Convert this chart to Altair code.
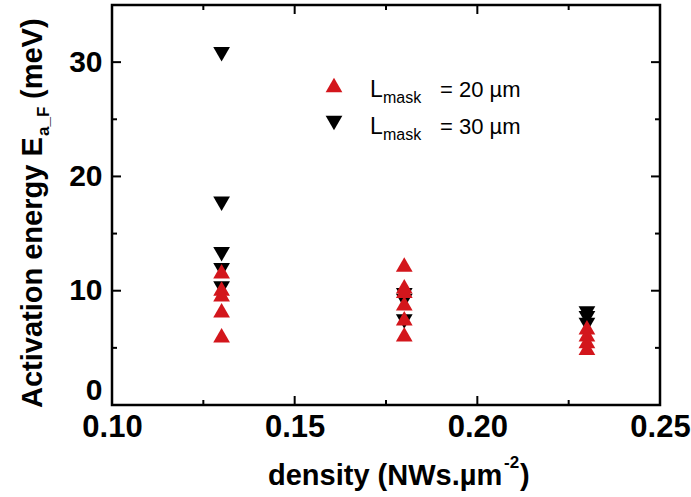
import altair as alt
import pandas as pd

# ---- data ----
density_20 = [0.13, 0.13, 0.13, 0.13, 0.13,
              0.18, 0.18, 0.18, 0.18, 0.18, 0.18,
              0.23, 0.23, 0.23, 0.23]
energy_20 = [11.7, 10.2, 9.7, 8.3, 6.1,
             12.3, 10.4, 10.0, 8.9, 7.6, 6.2,
             6.8, 6.2, 5.6, 5.0]
density_30 = [0.13, 0.13, 0.13, 0.13, 0.13,
              0.18, 0.18, 0.18,
              0.23, 0.23, 0.23]
energy_30 = [30.7, 17.6, 13.2, 11.8, 10.2,
             9.6, 9.1, 7.3,
             8.0, 7.6, 7.0]

x_major = [0.10, 0.15, 0.20, 0.25]
x_minor = [0.125, 0.175, 0.225]
y_major = [0, 10, 20, 30]
y_minor = [5, 15, 25]

legend_main = ["L", "L"]
legend_sub = ["mask", "mask"]
legend_rest = ["= 20 µm", "= 30 µm"]

W, H = 548, 400
RED = "#d3161c"
FONT = "Liberation Sans"

xs = alt.Scale(domain=[0.10, 0.25], nice=False, zero=False)
ys = alt.Scale(domain=[0, 35], nice=False)

df20 = pd.DataFrame({"d": density_20, "e": energy_20})
df30 = pd.DataFrame({"d": density_30, "e": energy_30})

xaxis = alt.Axis(values=x_major, format=".2f", ticks=False, domain=False, grid=False,
                 labelFont=FONT, labelFontSize=31, labelFontWeight="bold",
                 labelColor="black", labelPadding=7, labelFlush=False,
                 labelOverlap=False, title=None)
yaxis = alt.Axis(values=y_major, format="d", ticks=False, domain=False, grid=False,
                 labelFont=FONT, labelFontSize=30, labelFontWeight="bold",
                 labelColor="black", labelPadding=10, labelFlush=True, title=None)

black = alt.Chart(df30).mark_point(shape="triangle-down", filled=True, size=280,
                                   color="black", opacity=1).encode(
    x=alt.X("d:Q", scale=xs, axis=xaxis),
    y=alt.Y("e:Q", scale=ys, axis=yaxis),
)
red = alt.Chart(df20).mark_point(shape="triangle-up", filled=True, size=280,
                                 color=RED, opacity=1).encode(
    x=alt.X("d:Q", scale=xs),
    y=alt.Y("e:Q", scale=ys),
)

# inward ticks
xmaj = pd.DataFrame({"v": x_major})
xmin = pd.DataFrame({"v": x_minor})
ymaj = pd.DataFrame({"v": y_major})
ymin = pd.DataFrame({"v": y_minor})

def xticks(df, L):
    b = alt.Chart(df).mark_rule(color="black", strokeWidth=2).encode(
        x=alt.X("v:Q", scale=xs), y=alt.value(H), y2=alt.value(H - L))
    t = alt.Chart(df).mark_rule(color="black", strokeWidth=2).encode(
        x=alt.X("v:Q", scale=xs), y=alt.value(0), y2=alt.value(L))
    return b + t

def yticks(df, L):
    l = alt.Chart(df).mark_rule(color="black", strokeWidth=2).encode(
        y=alt.Y("v:Q", scale=ys), x=alt.value(0), x2=alt.value(L))
    r = alt.Chart(df).mark_rule(color="black", strokeWidth=2).encode(
        y=alt.Y("v:Q", scale=ys), x=alt.value(W), x2=alt.value(W - L))
    return l + r

ticks = xticks(xmaj, 9) + xticks(xmin, 5) + yticks(ymaj, 9) + yticks(ymin, 5)

# legend
leg = pd.DataFrame({"m": legend_main, "s": legend_sub, "r": legend_rest, "i": [0, 1]})
leg_red = alt.Chart(leg.iloc[[0]]).mark_point(shape="triangle-up", filled=True, size=280,
                                              color=RED, opacity=1).encode(
    x=alt.value(222), y=alt.value(80))
leg_black = alt.Chart(leg.iloc[[1]]).mark_point(shape="triangle-down", filled=True, size=280,
                                                color="black", opacity=1).encode(
    x=alt.value(222), y=alt.value(118))

def leg_text(row, y):
    d = leg.iloc[[row]]
    a = alt.Chart(d).mark_text(font=FONT, fontSize=23, align="left", baseline="alphabetic",
                               color="black").encode(x=alt.value(258), y=alt.value(y), text="m:N")
    b = alt.Chart(d).mark_text(font=FONT, fontSize=16, align="left", baseline="alphabetic",
                               color="black").encode(x=alt.value(271), y=alt.value(y + 6), text="s:N")
    c = alt.Chart(d).mark_text(font=FONT, fontSize=22, align="left", baseline="alphabetic",
                               color="black").encode(x=alt.value(328), y=alt.value(y), text="r:N")
    return a + b + c

legend = leg_red + leg_black + leg_text(0, 92) + leg_text(1, 129)

# axis titles (with sub/superscripts)
yt = pd.DataFrame({"a": ["Activation energy E"], "b": ["a_F"], "c": ["(meV)"]})
ytitle = (
    alt.Chart(yt).mark_text(font=FONT, fontSize=29, fontWeight="bold", angle=270,
                            align="left", baseline="alphabetic", color="black").encode(
        x=alt.value(-70), y=alt.value(403), text="a:N")
    + alt.Chart(yt).mark_text(font=FONT, fontSize=17, fontWeight="bold", angle=270,
                              align="left", baseline="alphabetic", color="black").encode(
        x=alt.value(-63), y=alt.value(131), text="b:N")
    + alt.Chart(yt).mark_text(font=FONT, fontSize=29, fontWeight="bold", angle=270,
                              align="left", baseline="alphabetic", color="black").encode(
        x=alt.value(-70), y=alt.value(94), text="c:N")
)

xt = pd.DataFrame({"a": ["density (NWs.µm"], "b": ["-2"], "c": [")"]})
xtitle = (
    alt.Chart(xt).mark_text(font=FONT, fontSize=29, fontWeight="bold",
                            align="left", baseline="alphabetic", color="black").encode(
        x=alt.value(156), y=alt.value(480), text="a:N")
    + alt.Chart(xt).mark_text(font=FONT, fontSize=17, fontWeight="bold",
                              align="left", baseline="alphabetic", color="black").encode(
        x=alt.value(392), y=alt.value(463), text="b:N")
    + alt.Chart(xt).mark_text(font=FONT, fontSize=29, fontWeight="bold",
                              align="left", baseline="alphabetic", color="black").encode(
        x=alt.value(408), y=alt.value(480), text="c:N")
)

chart = (black + red + ticks + legend + ytitle + xtitle).properties(
    width=W, height=H,
    autosize=alt.AutoSizeParams(type="none"),
    padding={"left": 112, "top": 5, "right": 31, "bottom": 92},
    background="white",
).configure_view(stroke="black", strokeWidth=2.5)

chart.save("out.html", embed_options={"renderer": "svg", "actions": False})
